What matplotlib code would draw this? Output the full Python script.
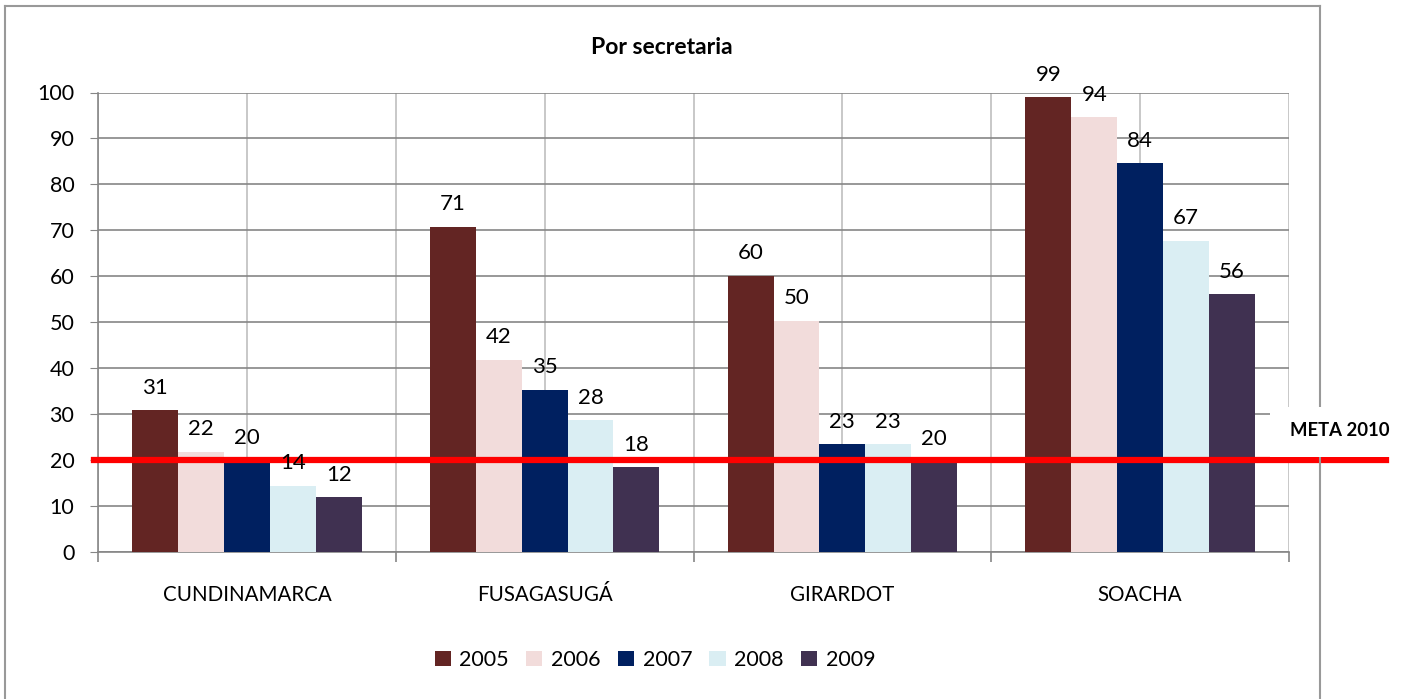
import matplotlib
matplotlib.use("Agg")
import matplotlib.pyplot as plt
import numpy as np
from matplotlib.patches import Rectangle
from matplotlib.lines import Line2D

plt.rcParams['font.family'] = ['Lato', 'DejaVu Sans']

categories = ["CUNDINAMARCA", "FUSAGASUGÁ", "GIRARDOT", "SOACHA"]
years = ["2005", "2006", "2007", "2008", "2009"]
v2005 = [30.9, 70.8, 60.1, 99.0]
v2006 = [21.8, 41.8, 50.3, 94.6]
v2007 = [19.9, 35.3, 23.5, 84.6]
v2008 = [14.4, 28.7, 23.5, 67.7]
v2009 = [11.9, 18.4, 19.8, 56.1]
labels2005 = ["31", "71", "60", "99"]
labels2006 = ["22", "42", "50", "94"]
labels2007 = ["20", "35", "23", "84"]
labels2008 = ["14", "28", "23", "67"]
labels2009 = ["12", "18", "20", "56"]
meta_2010 = 20
yticks = [0, 10, 20, 30, 40, 50, 60, 70, 80, 90, 100]

series = [v2005, v2006, v2007, v2008, v2009]
series_labels = [labels2005, labels2006, labels2007, labels2008, labels2009]
colors = ["#632523", "#F2DCDB", "#002060", "#DAEEF3", "#403151"]

W, H = 1406, 699
fig = plt.figure(figsize=(W / 100, H / 100), dpi=100)
ax = fig.add_axes([98 / W, 1 - 552 / H, (1289 - 98) / W, (552 - 92.5) / H])

x = np.arange(len(categories))
bw = 0.154
for i, (vals, labs, c) in enumerate(zip(series, series_labels, colors)):
    pos = x + (i - 2) * bw
    bars = ax.bar(pos, vals, width=bw, color=c, label=years[i], zorder=3)
    for b, lab in zip(bars, labs):
        ax.annotate(lab, (b.get_x() + b.get_width() / 2, b.get_height()),
                    xytext=(0, 9), textcoords="offset points",
                    ha="center", va="bottom", fontsize=16, zorder=6)

ax.set_xlim(-0.5, len(categories) - 0.5)
ax.set_ylim(0, 100)
ax.set_yticks(yticks)
ax.set_yticklabels([str(t) for t in yticks], fontsize=15.5)
ax.set_xticks(x)
ax.set_xticklabels(categories, fontsize=14.8)
ax.tick_params(axis='x', length=0, pad=24)
ax.tick_params(axis='y', length=6, color="#868686", pad=11, direction='out')

# category boundary ticks
ax.set_xticks(np.arange(-0.5, len(categories), 1.0), minor=True)
ax.tick_params(axis='x', which='minor', length=7, color="#868686", width=1.2)

# gridlines
ax.yaxis.grid(True, color="#868686", lw=1.2, zorder=0)
for g in np.arange(-0.5, len(categories), 0.5):
    ax.axvline(g, color="#BFBFBF", lw=1.2, zorder=0)

for s in ["top", "right"]:
    ax.spines[s].set_visible(False)
ax.spines["left"].set_color("#868686")
ax.spines["bottom"].set_color("#868686")
ax.spines["left"].set_linewidth(1.2)
ax.spines["bottom"].set_linewidth(1.2)

# META line
ax.axhline(meta_2010, xmin=-0.003, xmax=1.0815, color="#FF0000", lw=4.5,
           clip_on=False, zorder=5)

# outer frame
fig.add_artist(Line2D([5 / W, 5 / W], [0, 1 - 6 / H], color="#999999", lw=1.5))
fig.add_artist(Line2D([5 / W, 1320 / W], [1 - 6 / H, 1 - 6 / H], color="#999999", lw=1.5))
fig.add_artist(Line2D([1320 / W, 1320 / W], [0, 1 - 6 / H], color="#999999", lw=1.5))

# META label with white box
fig.add_artist(Rectangle((1270 / W, 1 - 457 / H), 120 / W, 50 / H,
                         facecolor="white", edgecolor="none", zorder=4))
fig.text(1340 / W, 1 - 431 / H, "META 2010", ha="center", va="center",
         fontsize=13.3, fontweight="bold", zorder=5)

fig.text(662 / W, 1 - 47 / H, "Por secretaria", ha="center", va="center",
         fontsize=16.5, fontweight="bold")

leg = fig.legend(loc="center", bbox_to_anchor=(655 / W, 1 - 660 / H), ncol=5,
                 frameon=False, fontsize=15.5, handlelength=0.75, handleheight=0.75,
                 handletextpad=0.4, columnspacing=0.8)

fig.savefig("out.png", dpi=100)
